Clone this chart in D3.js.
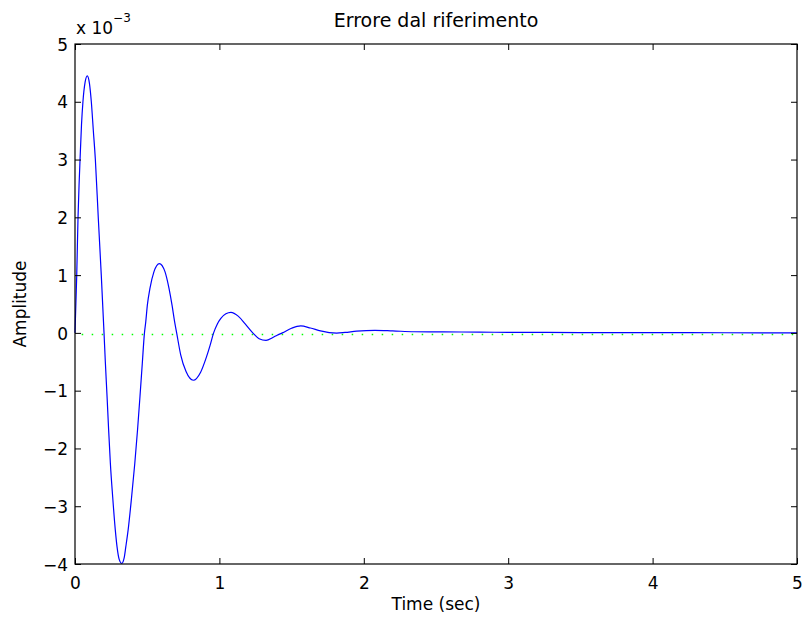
<!DOCTYPE html>
<html>
<head>
<meta charset="utf-8">
<script src="https://cdn.jsdelivr.net/npm/d3@7"></script>
<style>
  html, body { margin: 0; padding: 0; background: #fff; }
  svg { display: block; }
  text { font-family: "DejaVu Sans", "Liberation Sans", Arial, sans-serif; fill: #000; }
</style>
</head>
<body>
<svg id="chart" width="807" height="620"></svg>
<script>
// Step-response error signal (amplitude shown in units of 1e-3)
const timeSec = [
  0.000, 0.006, 0.012, 0.021, 0.028, 0.035, 0.045, 0.055, 0.070, 0.085,
  0.100, 0.113, 0.127, 0.141, 0.161, 0.182, 0.201, 0.210, 0.222, 0.233,
  0.245, 0.261, 0.279, 0.291, 0.306, 0.324, 0.340, 0.352, 0.368, 0.392,
  0.414, 0.433, 0.450, 0.466, 0.481, 0.490, 0.501, 0.519, 0.547, 0.584,
  0.623, 0.651, 0.672, 0.690, 0.704, 0.732, 0.769, 0.819, 0.870, 0.910,
  0.935, 0.960, 0.985, 1.010, 1.045, 1.080, 1.130, 1.180, 1.231, 1.275,
  1.323, 1.370, 1.400, 1.436, 1.500, 1.563, 1.630, 1.700, 1.760, 1.812,
  1.870, 1.950, 2.077, 2.200, 2.350, 2.550, 2.800, 3.000, 3.500, 4.000,
  4.500, 5.000
];
const amplitudeE3 = [
  0.00, 0.50, 1.00, 2.00, 2.55, 3.00, 3.60, 4.00, 4.34, 4.45,
  4.32, 4.00, 3.50, 3.00, 2.00, 1.00, 0.00, -0.50, -1.10, -1.68,
  -2.26, -2.84, -3.41, -3.70, -3.92, -3.99, -3.90, -3.70, -3.41, -2.84,
  -2.26, -1.68, -1.10, -0.53, 0.00, 0.19, 0.48, 0.77, 1.06, 1.20,
  1.06, 0.77, 0.48, 0.19, 0.00, -0.38, -0.67, -0.82, -0.68, -0.42,
  -0.22, 0.00, 0.15, 0.25, 0.33, 0.355, 0.29, 0.15, 0.00, -0.10,
  -0.13, -0.08, -0.04, 0.00, 0.08, 0.12, 0.085, 0.035, 0.005, -0.003,
  0.008, 0.03, 0.045, 0.035, 0.02, 0.018, 0.012, 0.01, 0.006, 0.004,
  0.002, 0.000
];
// Steady-state reference level (same units)
const steadyStateE3 = -0.03;

const xTicks = [0, 1, 2, 3, 4, 5];
const yTicks = [-4, -3, -2, -1, 0, 1, 2, 3, 4, 5];
const titleText = "Errore dal riferimento";
const xLabelText = "Time (sec)";
const yLabelText = "Amplitude";

const W = 807, H = 620;
const margin = { top: 44, right: 10, bottom: 56, left: 75 };
const iw = W - margin.left - margin.right;
const ih = H - margin.top - margin.bottom;

const svg = d3.select("#chart");
const g = svg.append("g").attr("transform", `translate(${margin.left},${margin.top})`);

const x = d3.scaleLinear().domain([0, 5]).range([0, iw]);
const y = d3.scaleLinear().domain([-4, 5]).range([ih, 0]);

const fmt = d3.format("d");
const fontSize = 17;
const tickLen = 6;

// Reference level (dotted green)
g.append("line")
  .attr("x1", x(0)).attr("x2", x(5))
  .attr("y1", y(steadyStateE3)).attr("y2", y(steadyStateE3))
  .attr("stroke", "#00ff00")
  .attr("stroke-width", 1.5)
  .attr("stroke-dasharray", "1.5 8.5")
  .attr("stroke-dashoffset", 3.3);

// Response curve
const data = timeSec.map((t, i) => [t, amplitudeE3[i]]);
const line = d3.line()
  .x(d => x(d[0]))
  .y(d => y(d[1]))
  .curve(d3.curveMonotoneX);

g.append("path")
  .datum(data)
  .attr("fill", "none")
  .attr("stroke", "#0000ff")
  .attr("stroke-width", 1.2)
  .attr("d", line);

// Axes with inward ticks on all four sides
const axisStyle = sel => {
  sel.select(".domain").remove();
  sel.selectAll(".tick line").attr("stroke", "#000").attr("stroke-width", 1);
};

const xBottom = g.append("g").attr("transform", `translate(0,${ih})`)
  .call(d3.axisBottom(x).tickValues(xTicks).tickFormat(fmt).tickSizeInner(-tickLen).tickSizeOuter(0).tickPadding(0));
xBottom.call(axisStyle);
xBottom.selectAll(".tick text")
  .attr("y", 25).attr("dy", null);

const xTop = g.append("g")
  .call(d3.axisTop(x).tickValues(xTicks).tickFormat("").tickSizeInner(-tickLen).tickSizeOuter(0));
xTop.call(axisStyle);

const yLeft = g.append("g")
  .call(d3.axisLeft(y).tickValues(yTicks).tickFormat(fmt).tickSizeInner(-tickLen).tickSizeOuter(0).tickPadding(0));
yLeft.call(axisStyle);
yLeft.selectAll(".tick text")
  .attr("x", -7).attr("dy", "0.36em");

const yRight = g.append("g").attr("transform", `translate(${iw},0)`)
  .call(d3.axisRight(y).tickValues(yTicks).tickFormat("").tickSizeInner(-tickLen).tickSizeOuter(0));
yRight.call(axisStyle);

// Box
g.append("rect")
  .attr("x", 0).attr("y", 0).attr("width", iw).attr("height", ih)
  .attr("fill", "none").attr("stroke", "#000").attr("stroke-width", 1.2);

svg.selectAll("g").attr("font-family", null).attr("font-size", null);
svg.selectAll(".tick text").attr("fill", "#000").style("font-size", fontSize + "px");

// Exponent label
const expo = svg.append("text")
  .attr("x", margin.left + 1).attr("y", 34)
  .style("font-size", fontSize + "px");
expo.append("tspan").text("x 10");
expo.append("tspan").attr("dy", -12.5).style("font-size", "12px").text("\u22123");

// Title
svg.append("text")
  .attr("x", margin.left + iw / 2).attr("y", 27)
  .attr("text-anchor", "middle")
  .style("font-size", "19px")
  .text(titleText);

// Axis labels
svg.append("text")
  .attr("x", margin.left + iw / 2).attr("y", 610)
  .attr("text-anchor", "middle")
  .style("font-size", fontSize + "px")
  .text(xLabelText);

svg.append("text")
  .attr("transform", `translate(26,${margin.top + ih / 2}) rotate(-90)`)
  .attr("text-anchor", "middle")
  .style("font-size", fontSize + "px")
  .text(yLabelText);
</script>
</body>
</html>
